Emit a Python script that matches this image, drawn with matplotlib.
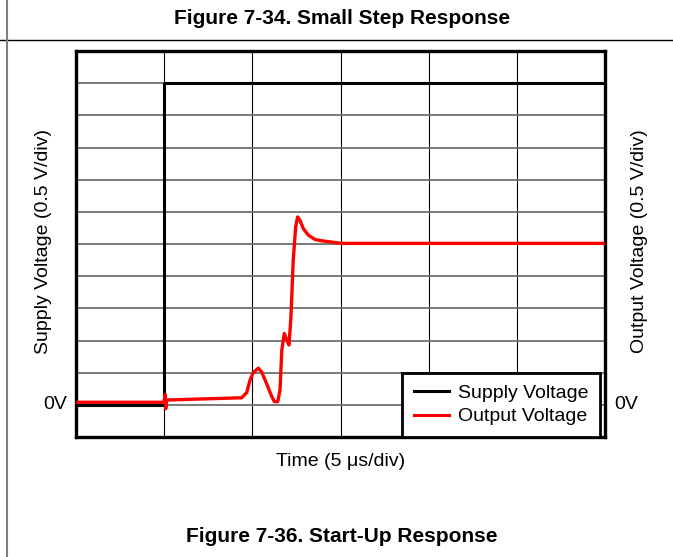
import numpy as np
import matplotlib
matplotlib.use("Agg")
from matplotlib import pyplot as plt
from matplotlib.lines import Line2D

plt.rcParams['font.family'] = ['Liberation Sans', 'DejaVu Sans']

# time in us (5 us/div), voltages in V (0.5 V/div)
supply_t = [0.0, 5.0, 5.0, 30.0]
supply_v = [0.0, 0.0, 5.0, 5.0]

out_t = [0.0, 4.99, 5.06, 5.09, 5.14, 9.40, 9.68, 9.87, 10.05, 10.34, 10.53,
         10.81, 11.10, 11.25, 11.44, 11.57, 11.67, 11.81, 11.95, 12.08, 12.19,
         12.32, 12.46, 12.57, 12.70, 12.89, 13.17, 13.55, 13.93, 14.50, 15.07,
         30.0]
out_v = [0.04, 0.04, 0.16, -0.06, 0.075, 0.11, 0.19, 0.385, 0.50, 0.57, 0.51,
         0.33, 0.13, 0.05, 0.05, 0.23, 0.85, 1.11, 1.01, 0.93, 1.37,
         2.25, 2.77, 2.92, 2.87, 2.74, 2.64, 2.57, 2.55, 2.53, 2.51,
         2.51]

fig = plt.figure(figsize=(6.73, 5.57), dpi=100)
ax = fig.add_axes([76 / 673, 1 - 437 / 557, 529 / 673, 386 / 557])

ax.set_xlim(0, 30)
ax.set_ylim(-0.5, 5.5)
ax.set_xticks([])
ax.set_yticks([])
for x in np.arange(5, 30, 5):
    ax.axvline(x, color='black', lw=0.8, zorder=1)
for y in np.arange(0, 5.5, 0.5):
    ax.axhline(y, color='#707070', lw=1.3, zorder=1)
for s in ax.spines.values():
    s.set_linewidth(2.4)

ax.plot(supply_t, supply_v, color='black', lw=2.2, zorder=3)
ax.plot(out_t, out_v, color='#ff0000', lw=2.4, zorder=4,
        solid_joinstyle='round', solid_capstyle='round')

handles = [Line2D([], [], color='black', lw=2.2),
           Line2D([], [], color='#ff0000', lw=2.2)]
leg = ax.legend(handles, ['Supply Voltage', 'Output Voltage'], loc='lower right',
                bbox_to_anchor=(0.9905, 0.0), borderaxespad=0, fancybox=False,
                framealpha=1, edgecolor='black', fontsize=14, handlelength=1.8,
                labelspacing=0.3, borderpad=0.6, handletextpad=0.45)
leg.get_frame().set_linewidth(2.0)
leg.set_zorder(5)

ax.text(-0.016, 0, '0V', transform=ax.get_yaxis_transform(), ha='right',
        va='center', fontsize=14)
ax.text(1.017, 0, '0V', transform=ax.get_yaxis_transform(), ha='left',
        va='center', fontsize=14)

fig.text(44 / 673, 1 - 241 / 557, 'Supply Voltage (0.5 V/div)', rotation=90,
         ha='center', va='center', fontsize=14)
fig.text(640 / 673, 1 - 241 / 557, 'Output Voltage (0.5 V/div)', rotation=90,
         ha='center', va='center', fontsize=14)
fig.text(341 / 673, 1 - 462 / 557, 'Time (5 \u03bcs/div)', ha='center',
         va='center', fontsize=14)

fig.text(342 / 673, 1 - 18.5 / 557, 'Figure 7-34. Small Step Response',
         ha='center', va='center', fontsize=15, fontweight='bold')
fig.text(342 / 673, 1 - 536.5 / 557, 'Figure 7-36. Start-Up Response',
         ha='center', va='center', fontsize=15, fontweight='bold')

# page rules
fig.add_artist(Line2D([0, 1], [1 - 40 / 557, 1 - 40 / 557], color='black', lw=1.0))
fig.add_artist(Line2D([7 / 673, 7 / 673], [0, 1], color='#808080', lw=1.5))

fig.savefig('out.png', dpi=100)
